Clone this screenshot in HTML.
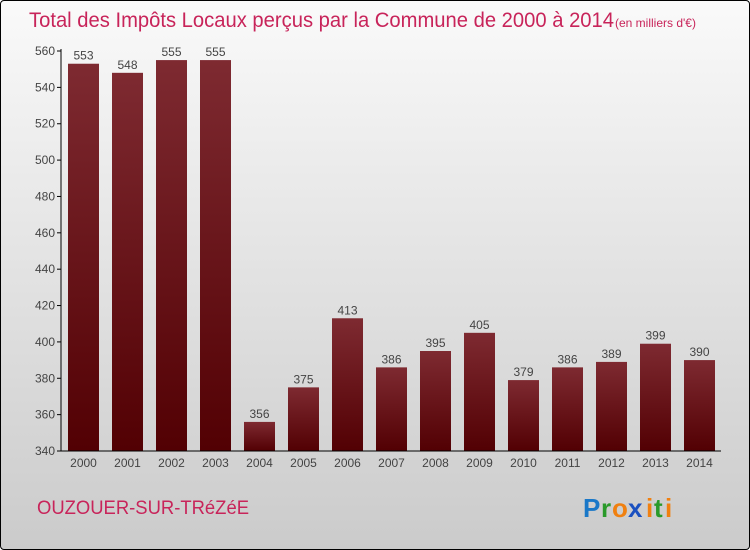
<!DOCTYPE html>
<html><head><meta charset="utf-8"><style>
body{margin:0}
#c{position:relative;width:748px;height:548px;border:1px solid #000;border-radius:4px;background:linear-gradient(#fafafa,#f0f0f0 20%,#cbcbcb);font-family:"Liberation Sans",sans-serif;overflow:hidden}
</style></head><body>
<div id="c">
<svg width="748" height="548">
<defs><linearGradient id="g" x1="0" y1="0" x2="0" y2="1"><stop offset="0" stop-color="#7e2a31"/><stop offset="1" stop-color="#520003"/></linearGradient></defs>
<text x="28" y="26" font-size="21" fill="#c8245a" textLength="585" lengthAdjust="spacingAndGlyphs">Total des Impôts Locaux perçus par la Commune de 2000 à 2014</text>
<text x="614" y="26" font-size="12" fill="#c8245a">(en milliers d'€)</text>
<g id="plot"></g>
<text x="36" y="513" font-size="19" fill="#c8245a" textLength="212" lengthAdjust="spacingAndGlyphs">OUZOUER-SUR-TRéZéE</text>
<g font-size="26" font-weight="bold" font-family="Liberation Sans,sans-serif">
<text x="582" y="516" fill="#1a78c8">P</text><text x="600" y="516" fill="#2a9a2a">r</text><text x="611" y="516" fill="#f08010">o</text><text x="627" y="516" fill="#1a50c0">x</text><text x="645" y="516" fill="#f08010">i</text><text x="653" y="516" fill="#2a9a2a">t</text><text x="664" y="516" fill="#f08010">i</text></g>
</svg></div>
<script>
const years=["2000","2001","2002","2003","2004","2005","2006","2007","2008","2009","2010","2011","2012","2013","2014"];
const values=[553,548,555,555,356,375,413,386,395,405,379,386,389,399,390];
const ticks=[340,360,380,400,420,440,460,480,500,520,540,560];
const ns="http://www.w3.org/2000/svg";
const g=document.getElementById("plot");
const y=v=>450-(v-340)*400/220, x=i=>82.5+i*44;
function mk(t,a,txt){const e=document.createElementNS(ns,t);for(const k in a)e.setAttribute(k,a[k]);if(txt!=null)e.textContent=txt;g.appendChild(e);return e;}
ticks.forEach(t=>{
const l=mk("line",{x1:56,x2:60,y1:y(t),y2:y(t),stroke:"#000"});


const tx=mk("text",{x:54,y:y(t)+4,"font-size":12,fill:"#444","text-anchor":"end"},t);


});
values.forEach((v,i)=>{
const r=mk("rect",{x:x(i)-15.5,y:y(v),width:31,height:450-y(v),fill:"url(#g)"});


const vl=mk("text",{x:x(i),y:y(v)-4,"font-size":12,fill:"#444","text-anchor":"middle"},v);


const xl=mk("text",{x:x(i),y:466,"font-size":12,fill:"#444","text-anchor":"middle"},years[i]);


});
const ya=mk("line",{x1:60,x2:60,y1:48,y2:450,stroke:"#000"});


const xa=mk("line",{x1:60,x2:720,y1:450,y2:450,stroke:"#000"});


</script>
</body></html>
